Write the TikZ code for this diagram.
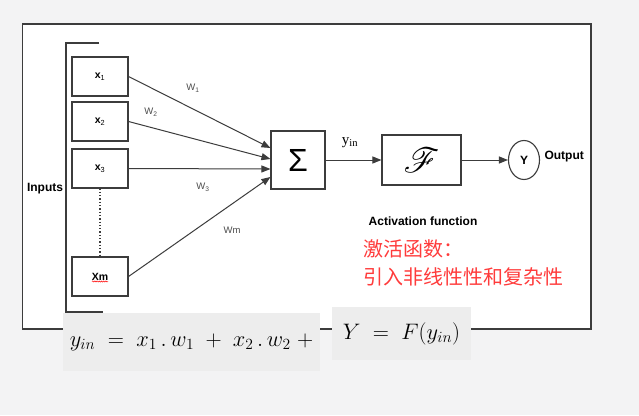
\documentclass[tikz,border=0pt]{standalone}
\usepackage{fontspec}
\usepackage{mathrsfs}
\setsansfont{Liberation Sans}
\newfontfamily\cjk{Noto Sans CJK SC}
\newfontfamily\timesf{Liberation Serif}
\usetikzlibrary{arrows.meta, shapes.geometric, decorations.pathmorphing, calc}

\definecolor{linegray}{HTML}{3C3C3C}
\definecolor{pagegray}{HTML}{F3F3F4}
\definecolor{eqgray}{HTML}{EDEDED}
\definecolor{cnred}{HTML}{FF3B3B}

\begin{document}
\begin{tikzpicture}[
  x=1pt, y=-1pt,
  frame/.style={draw=linegray, line width=1.4pt},
  inbox/.style={rectangle, draw=linegray, line width=1.1pt, minimum width=56pt,
    minimum height=39pt, inner sep=0pt, font=\sffamily\bfseries\fontsize{10.5}{12}\selectfont},
  opbox/.style={rectangle, draw=linegray, line width=1.1pt, inner sep=0pt},
  arr/.style={draw=linegray, line width=1pt, -{Triangle[length=9pt, width=7pt]}},
  wlabel/.style={text=black!70, font=\sffamily\fontsize{9.5}{11}\selectfont},
  blabel/.style={font=\sffamily\bfseries\fontsize{12}{14}\selectfont},
  eqbox/.style={rectangle, fill=eqgray, inner sep=0pt, font=\fontsize{20.74}{25}\selectfont}
]
  \useasboundingbox (0,0) rectangle (639,415);
  \fill[pagegray] (0,0) rectangle (639,415);
  \filldraw[frame, fill=white] (22.5,24) rectangle (591,329);

  % inputs
  \draw[frame] (99,43) -- (66,43) -- (66,312) -- (103,312);
  \node[blabel] (inputs) at (45,189) {Inputs};
  \node[inbox] (x1) at (100,76.5) {x\textsubscript{\mdseries 1}};
  \node[inbox] (x2) at (100,121.5) {x\textsubscript{\mdseries 2}};
  \node[inbox] (x3) at (100,168.5) {x\textsubscript{\mdseries 3}};
  \node[inbox] (xm) at (100,276.5) {Xm};
  \draw[red, line width=0.5pt, decorate, decoration={snake, amplitude=0.6pt, segment length=2.2pt}]
    (92,281.5) -- (108,281.5);
  \draw[linegray, line width=1.3pt, dotted] (x3.south) -- (xm.north);

  % summation and activation
  \node[opbox, minimum width=54pt, minimum height=58pt, font=\sffamily\fontsize{32}{34}\selectfont]
    (sig) at (298,160) {Σ};
  \node[opbox, minimum width=79pt, minimum height=50pt, font=\fontsize{24.88}{28}\selectfont]
    (F) at (421.5,160) {\scalebox{1.4}{$\mathscr{F}$}};
  \node[ellipse, draw=linegray, line width=1.1pt, minimum width=31pt, minimum height=39pt,
    inner sep=0pt, blabel] (Y) at (524,160) {Y};
  \node[blabel, anchor=west] (out) at (541,157) {Output};

  \coordinate (s1) at ($(sig.west)+(0,-12)$);
  \coordinate (s2) at ($(sig.west)+(0,-1)$);
  \coordinate (s3) at ($(sig.west)+(0,9)$);
  \coordinate (s4) at ($(sig.west)+(0,17)$);
  \draw[arr] (x1.east) -- (s1);
  \draw[arr] (x2.east) -- (s2);
  \draw[arr] (x3.east) -- (s3);
  \draw[arr] (xm.east) -- (s4);
  \node[wlabel] (w1) at (193,88) {W\textsubscript{1}};
  \node[wlabel] (w2) at (151,112) {W\textsubscript{2}};
  \node[wlabel] (w3) at (203,187) {W\textsubscript{3}};
  \node[wlabel] (wm) at (232,230) {Wm};

  \draw[arr] (sig) -- (F);
  \draw[arr] (F) -- (Y);
  \node[font=\timesf\fontsize{15}{17}\selectfont] (yin) at (350,143) {y\textsubscript{in}};

  \node[blabel] (act) at (423,221) {Activation function};
  \node[anchor=west, text=cnred, font=\cjk\fontsize{20}{22}\selectfont] (cn1) at (360,249) {激活函数：};
  \node[anchor=west, text=cnred, font=\cjk\fontsize{20}{22}\selectfont] (cn2) at (360,277) {引入非线性性和复杂性};

  % formulas
  \node[eqbox, minimum width=257pt, minimum height=58pt] (eq1) at (191.5,342)
    {\scalebox{1.08}{$y_{in} \;=\; x_1\,.\,w_1 \;+\; x_2\,.\,w_2 \;+$}};
  \node[eqbox, minimum width=139pt, minimum height=53pt] (eq2) at (401.5,333.5)
    {\scalebox{1.08}{$Y \;=\; F(y_{in})$}};
\end{tikzpicture}
\end{document}
